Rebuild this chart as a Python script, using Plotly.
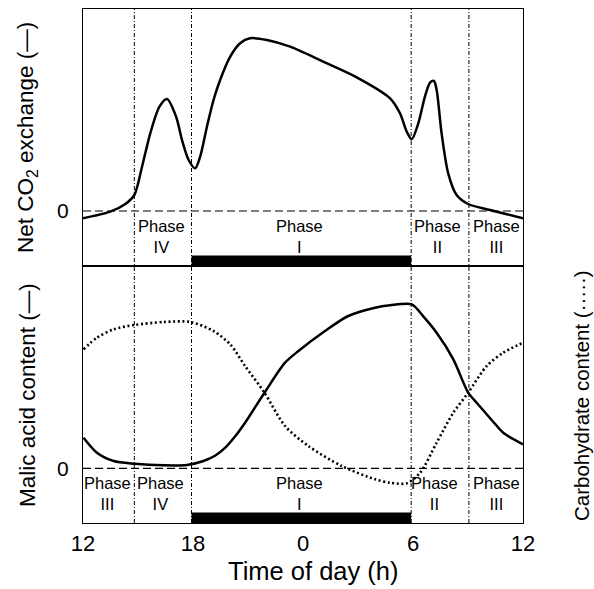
import plotly.graph_objects as go

# ---- data ----
co2_hours = [12.0, 13.49, 14.31, 14.80, 15.22, 15.67, 16.17, 16.58, 17.08, 17.40, 17.76, 18.12,
             18.39, 18.76, 19.12, 19.48, 20.03, 20.57, 21.11, 22.03, 23.30, 25.11, 26.93, 28.75,
             29.29, 29.66, 29.93, 30.29, 30.65, 30.93, 31.14, 31.29, 31.56, 31.92, 32.38, 33.01,
             34.20, 36.0]
co2_vals = [-0.73, -0.07, 0.7, 1.6, 4.43, 7.77, 10.43, 11.2, 9.43, 7.1, 5.1, 4.27,
            5.43, 8.43, 11.1, 13.1, 15.43, 16.77, 17.27, 17.1, 16.43, 14.93, 13.37, 11.27,
            9.77, 7.93, 7.17, 8.77, 11.43, 12.83, 13.0, 12.1, 7.77, 3.77, 1.6, 0.7,
            0.1, -0.73]

malic_hours = [12.03, 12.76, 13.67, 14.81, 16.39, 17.67, 18.57, 19.20, 19.76, 20.30, 20.84, 21.90,
               23.02, 23.75, 25.20, 26.47, 27.93, 28.75, 29.93, 30.56, 31.29, 32.20, 33.01,
               33.45, 33.83, 34.40, 34.92, 36.0]
malic_vals = [3.06, 1.56, 0.73, 0.46, 0.3, 0.33, 0.73, 1.25, 2.06, 3.2, 4.56, 7.56,
              10.56, 11.73, 13.73, 15.23, 16.06, 16.3, 16.4, 15.2, 13.56, 10.9, 7.56,
              6.6, 5.8, 4.6, 3.56, 2.4]

carb_hours = [12.03, 12.76, 13.67, 14.81, 16.39, 17.85, 19.12, 20.03, 20.84, 21.90, 23.02,
              24.29, 26.11, 27.93, 28.75, 29.66, 30.39, 31.29, 32.20, 33.01, 34.02, 34.92, 36.0]
carb_vals = [11.9, 13.06, 13.9, 14.33, 14.63, 14.63, 13.73, 12.4, 10.23, 7.56, 4.23,
             2.23, 0.23, -1.1, -1.44, -1.5, -0.44, 2.56, 5.56, 7.56, 10.23, 11.56, 12.56]

tick_vals = [12, 18, 24, 30, 36]
tick_text = ["12", "18", "0", "6", "12"]

phase_bounds = [14.8, 17.92, 29.9, 33.05]
night = [17.92, 29.9]

top_phase_x = [16.3, 23.8, 31.35, 34.57]
top_phase_lab = ["IV", "I", "II", "III"]
bot_phase_x = [13.35, 16.2, 23.8, 31.15, 34.56]
bot_phase_lab = ["III", "IV", "I", "II", "III"]

FONT = "Liberation Sans, Arial, sans-serif"

fig = go.Figure()
fig.add_trace(go.Scatter(x=co2_hours, y=co2_vals, mode="lines", xaxis="x2", yaxis="y2",
                         line=dict(color="black", width=2.5, shape="spline", smoothing=0.8),
                         showlegend=False))
fig.add_trace(go.Scatter(x=malic_hours, y=malic_vals, mode="lines", xaxis="x", yaxis="y",
                         line=dict(color="black", width=2.5, shape="spline", smoothing=0.8),
                         showlegend=False))
fig.add_trace(go.Scatter(x=carb_hours, y=carb_vals, mode="lines", xaxis="x", yaxis="y",
                         line=dict(color="black", width=2.6, shape="spline", smoothing=0.8,
                                   dash="2px,2.6px"),
                         showlegend=False))

shapes = []
for yr in ["y", "y2"]:
    shapes.append(dict(type="line", xref="x", yref=yr, x0=12, x1=36, y0=0, y1=0,
                       line=dict(color="black", width=1.2, dash="8px,4px")))
for xb in phase_bounds:
    shapes.append(dict(type="line", xref="x", yref="paper", x0=xb, x1=xb, y0=0, y1=1,
                       line=dict(color="black", width=1, dash="4px,2px,1px,2px")))
shapes.append(dict(type="rect", xref="x", yref="y2", x0=night[0], x1=night[1],
                   y0=-5.5, y1=-4.45, fillcolor="black", line=dict(width=0)))
shapes.append(dict(type="rect", xref="x", yref="y", x0=night[0], x1=night[1],
                   y0=-5.47, y1=-4.42, fillcolor="black", line=dict(width=0)))

annotations = []
for xp, lab in zip(top_phase_x, top_phase_lab):
    annotations.append(dict(x=xp, y=-2.5, xref="x", yref="y2", text="Phase<br>" + lab,
                            showarrow=False, font=dict(size=16.5, color="black", family=FONT),
                            yanchor="middle", xanchor="center"))
for xp, lab in zip(bot_phase_x, bot_phase_lab):
    annotations.append(dict(x=xp, y=-2.5, xref="x", yref="y", text="Phase<br>" + lab,
                            showarrow=False, font=dict(size=16.5, color="black", family=FONT),
                            yanchor="middle", xanchor="center"))

W, H = 594, 589
L, R, T, B = 83, 71, 9, 66
pw, ph = W - L - R, H - T - B

def px_ann(px, py, text, size, angle=0):
    return dict(x=(px - L) / pw, y=1 - (py - T) / ph, xref="paper", yref="paper",
                text=text, showarrow=False, textangle=angle, xanchor="center",
                yanchor="middle", font=dict(size=size, color="black", family=FONT))

annotations.append(px_ann(27, 138, "Net CO<sub>2</sub> exchange (—)", 22.5, -90))
annotations.append(px_ann(27, 395, "Malic acid content (—)", 22.5, -90))
annotations.append(px_ann(581, 396, "Carbohydrate content (·····)", 20.5, -90))
annotations.append(px_ann(313, 571, "Time of day (h)", 25.5))

axis_common = dict(showline=True, linecolor="black", linewidth=1.3, mirror=True,
                   showgrid=False, zeroline=False)

fig.update_layout(
    width=W, height=H,
    margin=dict(l=L, r=R, t=T, b=B),
    paper_bgcolor="white", plot_bgcolor="white",
    font=dict(family=FONT, color="black"),
    shapes=shapes, annotations=annotations,
    xaxis=dict(domain=[0, 1], range=[12, 36], tickvals=tick_vals, ticktext=tick_text,
               ticks="", tickfont=dict(size=22, color="black"), anchor="y", **axis_common),
    xaxis2=dict(domain=[0, 1], range=[12, 36], matches="x", showticklabels=False,
                anchor="y2", **axis_common),
    yaxis=dict(domain=[0, 0.5], range=[-5.47, 20.23], tickvals=[0], ticktext=["0"],
               ticks="outside", ticklen=9, tickcolor="rgba(0,0,0,0)",
               tickfont=dict(size=21, color="black"), anchor="x", **axis_common),
    yaxis2=dict(domain=[0.5, 1], range=[-5.5, 20.2], tickvals=[0], ticktext=["0"],
                ticks="outside", ticklen=9, tickcolor="rgba(0,0,0,0)",
                tickfont=dict(size=21, color="black"), anchor="x2", **axis_common),
)

fig.write_html("out.html")
